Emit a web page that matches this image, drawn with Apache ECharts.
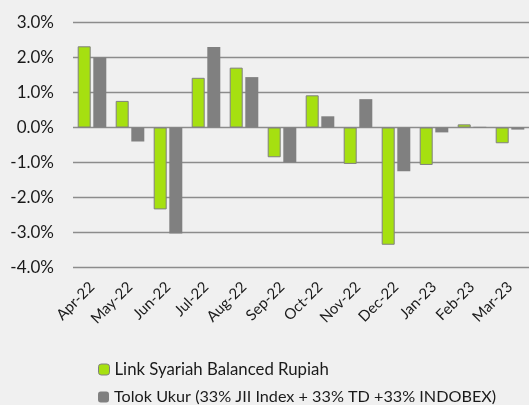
<!DOCTYPE html>
<html><head><meta charset="utf-8">
<script src="https://cdn.jsdelivr.net/npm/echarts@6/dist/echarts.min.js"></script>
<style>html,body{margin:0;padding:0;background:#f0f0f0}#c{width:529px;height:405px}</style>
</head><body><div id="c"></div>
<script>
var categories = ['Apr-22','May-22','Jun-22','Jul-22','Aug-22','Sep-22','Oct-22','Nov-22','Dec-22','Jan-23','Feb-23','Mar-23'];
var fundValues = [2.32, 0.76, -2.34, 1.42, 1.71, -0.85, 0.92, -1.04, -3.35, -1.07, 0.09, -0.45];
var benchValues = [2.00, -0.40, -3.03, 2.30, 1.44, -1.00, 0.32, 0.81, -1.25, -0.14, 0.02, -0.06];
var fundName = 'Link Syariah Balanced Rupiah';
var benchName = 'Tolok Ukur (33% JII Index + 33% TD +33% INDOBEX)';
var yMin = -4, yMax = 3, yStep = 1;

var FONT = 'Lato';
var chart = echarts.init(document.getElementById('c'));
chart.setOption({
  backgroundColor: '#f0f0f0',
  animation: false,
  textStyle: {fontFamily: FONT},
  grid: {left: 73, right: 0, top: 22.5, bottom: 137.5},
  legend: [
    {left: 93, top: 356, itemWidth: 11, itemHeight: 11, itemGap: 5,
     textStyle: {fontFamily: FONT, fontSize: 16.8, color: '#1a1a1a'},
     data: [{name: fundName, itemStyle: {color: '#a6e010', borderColor: '#808080', borderWidth: 1}}]},
    {left: 93, top: 384, itemWidth: 11, itemHeight: 11, itemGap: 5,
     textStyle: {fontFamily: FONT, fontSize: 16.2, color: '#1a1a1a'},
     data: [{name: benchName, itemStyle: {color: '#808080'}}]}
  ],
  xAxis: {
    type: 'category', data: categories,
    axisLine: {show: false}, axisTick: {show: false},
    axisLabel: {rotate: 45, fontSize: 15, color: '#1a1a1a', margin: 17, interval: 0}
  },
  yAxis: {
    type: 'value', min: yMin, max: yMax, interval: yStep,
    axisLine: {show: false}, axisTick: {show: false},
    splitLine: {lineStyle: {color: '#8c8c8c', width: 1.3}},
    axisLabel: {fontSize: 17, color: '#1a1a1a', margin: 19, formatter: function(v){return v.toFixed(1)+'%';}}
  },
  series: [
    {name: fundName, type: 'bar', data: fundValues, barWidth: 13, barGap: '20%',
     itemStyle: {color: '#a6e010', borderColor: '#808080', borderWidth: 1}},
    {name: benchName, type: 'bar', data: benchValues, barWidth: 13,
     itemStyle: {color: '#808080'}}
  ]
});
</script></body></html>
